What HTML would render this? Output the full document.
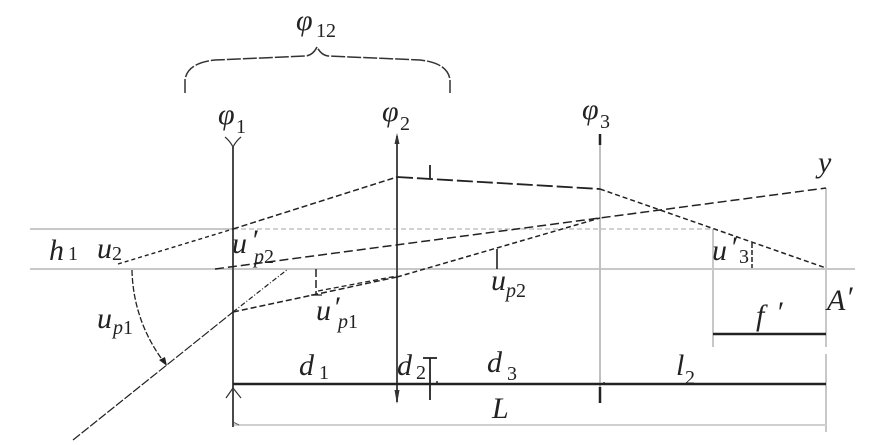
<!DOCTYPE html>
<html>
<head>
<meta charset="utf-8">
<style>
html,body{margin:0;padding:0;background:#fff;}
body{width:886px;height:445px;overflow:hidden;position:relative;font-family:'Liberation Serif','Times New Roman',Times,serif;}
svg{position:absolute;left:0;top:0;}
svg text{font-family:'Liberation Serif','Times New Roman',Times,serif;fill:#222;}
.i{font-style:italic;font-size:30px;}
.s{font-size:20px;}
.si{font-size:20px;font-style:italic;}
.ph{font-style:italic;font-size:30px;}
</style>
</head>
<body>
<svg width="886" height="445" viewBox="0 0 886 445" xmlns="http://www.w3.org/2000/svg" font-family="Liberation Serif, Times New Roman, serif">
  <!-- gray guide lines -->
  <line x1="30" y1="269" x2="855" y2="269" stroke="#c8c8c8" stroke-width="2"/>
  <line x1="30" y1="229" x2="233" y2="229" stroke="#c8c8c8" stroke-width="2"/>
  <line x1="233" y1="229" x2="713" y2="229" stroke="#c4c4c4" stroke-width="1.5" stroke-dasharray="5 3"/>
  <line x1="713" y1="229" x2="713" y2="347" stroke="#c8c8c8" stroke-width="2"/>
  <line x1="826" y1="188" x2="826" y2="347" stroke="#c8c8c8" stroke-width="2"/>
  <line x1="826" y1="354" x2="826" y2="432" stroke="#c8c8c8" stroke-width="2"/>
  <!-- L dimension -->
  <line x1="233" y1="425" x2="826" y2="425" stroke="#d0d0d0" stroke-width="2"/>
  <line x1="233" y1="422" x2="239" y2="425" stroke="#666" stroke-width="1"/>

  <!-- lens 3 (gray) -->
  <line x1="600" y1="135" x2="600" y2="403" stroke="#c0c0c0" stroke-width="2"/>
  <line x1="600" y1="134" x2="600" y2="145" stroke="#222" stroke-width="2.5"/>
  <line x1="600" y1="387" x2="600" y2="403" stroke="#222" stroke-width="2.5"/>
  <circle cx="604" cy="383" r="1" fill="#333"/>

  <!-- lens 1 -->
  <line x1="233" y1="147" x2="233" y2="427" stroke="#4a4a4a" stroke-width="2"/>
  <path d="M225,137 Q230,141 233,147 Q236,141 241,137" fill="none" stroke="#333" stroke-width="1.2"/>
  <path d="M226,398 L233,388 L241,398" fill="none" stroke="#333" stroke-width="1.2"/>

  <!-- lens 2 -->
  <line x1="397" y1="136" x2="397" y2="402" stroke="#4a4a4a" stroke-width="2"/>
  <polygon points="397,133 394.5,144 399.5,144" fill="#333"/>
  <polygon points="397,404 394.5,390 399.5,390" fill="#333"/>

  <!-- dimension line d -->
  <line x1="233" y1="384" x2="826" y2="384" stroke="#222" stroke-width="2.5"/>
  <!-- d2 marker -->
  <line x1="430" y1="358" x2="430" y2="400" stroke="#222" stroke-width="1.8"/>
  <line x1="423" y1="358" x2="437" y2="358" stroke="#222" stroke-width="1.8"/>
  <circle cx="437" cy="382" r="1" fill="#333"/>
  <!-- f' line -->
  <line x1="713" y1="334" x2="826" y2="334" stroke="#222" stroke-width="2.5"/>

  <!-- brace -->
  <path d="M185,93 L185,80 Q187,63 215,60 L306,56 Q313,55 317,47 Q321,55 328,56 L420,60 Q448,63 450,80 L450,93" fill="none" stroke="#333" stroke-width="1.5" stroke-dasharray="14 2"/>

  <!-- marginal ray -->
  <line x1="118" y1="264" x2="233" y2="229" stroke="#222" stroke-width="1.4" stroke-dasharray="4 3"/>
  <line x1="233" y1="229" x2="397" y2="177" stroke="#222" stroke-width="1.5" stroke-dasharray="6 3"/>
  <line x1="397" y1="177" x2="600" y2="189" stroke="#222" stroke-width="1.8" stroke-dasharray="16 4"/>
  <line x1="600" y1="189" x2="826" y2="268" stroke="#222" stroke-width="1.5" stroke-dasharray="5 3"/>
  <line x1="430" y1="165" x2="430" y2="179" stroke="#222" stroke-width="1.8"/>

  <!-- chief ray -->
  <line x1="73" y1="440" x2="233" y2="312" stroke="#222" stroke-width="1.2" stroke-dasharray="9 2"/>
  <line x1="233" y1="312" x2="288" y2="269" stroke="#222" stroke-width="1.2" stroke-dasharray="5 2 1 2"/>
  <line x1="233" y1="312" x2="397" y2="277" stroke="#222" stroke-width="1.5" stroke-dasharray="6 3"/>
  <line x1="318" y1="291" x2="397" y2="276" stroke="#222" stroke-width="1.3" stroke-dasharray="5 3"/>
  <line x1="397" y1="277" x2="600" y2="218" stroke="#222" stroke-width="1.5" stroke-dasharray="5 3"/>
  <line x1="215" y1="269" x2="826" y2="188" stroke="#222" stroke-width="1.5" stroke-dasharray="9 4"/>

  <!-- angle marks -->
  <path d="M132,270 A156,156 0 0,0 164,362" fill="none" stroke="#222" stroke-width="1.3" stroke-dasharray="6 2"/>
  <polygon points="167,366 159,360 165,357" fill="#222"/>
  <line x1="316" y1="269" x2="316" y2="295" stroke="#222" stroke-width="1.5" stroke-dasharray="8 3"/>
  <line x1="311" y1="295" x2="322" y2="295" stroke="#222" stroke-width="1.3"/>
  <line x1="497" y1="249" x2="497" y2="269" stroke="#222" stroke-width="1.6"/>
  <line x1="752" y1="243" x2="752" y2="268" stroke="#222" stroke-width="1.5" stroke-dasharray="5 2"/>

  <!-- labels -->
  <g font-family="Liberation Serif, Times New Roman, serif">
  <text x="296" y="30" class="ph" font-style="italic">φ</text><text x="316" y="37" class="s">12</text>
  <text x="218" y="124" class="ph" font-style="italic">φ</text><text x="236" y="133" class="s">1</text>
  <text x="382" y="121" class="ph" font-style="italic">φ</text><text x="400" y="130" class="s">2</text>
  <text x="582" y="119" class="ph" font-style="italic">φ</text><text x="600" y="128" class="s">3</text>
  <text x="818" y="172" class="i" font-style="italic">y</text>

  <text x="49" y="260" class="i" font-style="italic">h</text><text x="68" y="260" class="s">1</text>
  <text x="97" y="258" class="i" font-style="italic">u</text><text x="112" y="260" class="s">2</text>
  <text x="232" y="253" class="i" font-style="italic">u</text><text x="251" y="250" class="i" font-style="italic">′</text><text x="254" y="263" class="si" font-style="italic">p</text><text x="264" y="263" class="s">2</text>
  <text x="97" y="328" class="i" font-style="italic">u</text><text x="113" y="334" class="si" font-style="italic">p</text><text x="123" y="334" class="s">1</text>
  <text x="316" y="320" class="i" font-style="italic">u</text><text x="333" y="317" class="i" font-style="italic">′</text><text x="338" y="328" class="si" font-style="italic">p</text><text x="348" y="328" class="s">1</text>
  <text x="491" y="290" class="i" font-style="italic">u</text><text x="506" y="297" class="si" font-style="italic">p</text><text x="516" y="297" class="s">2</text>
  <text x="712" y="260" class="i" font-style="italic">u</text><text x="730" y="257" class="i" font-style="italic">′</text><text x="739" y="263" class="s">3</text>
  <text x="827" y="310" class="i" font-style="italic">A</text><text x="846" y="307" class="i" font-style="italic">′</text>
  <text x="756" y="325" class="i" font-style="italic">f</text><text x="776" y="322" class="i" font-style="italic">′</text>

  <text x="299" y="375" class="i" font-style="italic">d</text><text x="319" y="379" class="s">1</text>
  <text x="397" y="375" class="i" font-style="italic">d</text><text x="416" y="379" class="s">2</text>
  <text x="487" y="372" class="i" font-style="italic">d</text><text x="507" y="380" class="s">3</text>
  <text x="676" y="375" class="i" font-style="italic">l</text><text x="685" y="384" class="s">2</text>
  <text x="492" y="418" class="i" font-style="italic">L</text>
  </g>
</svg>
</body>
</html>
